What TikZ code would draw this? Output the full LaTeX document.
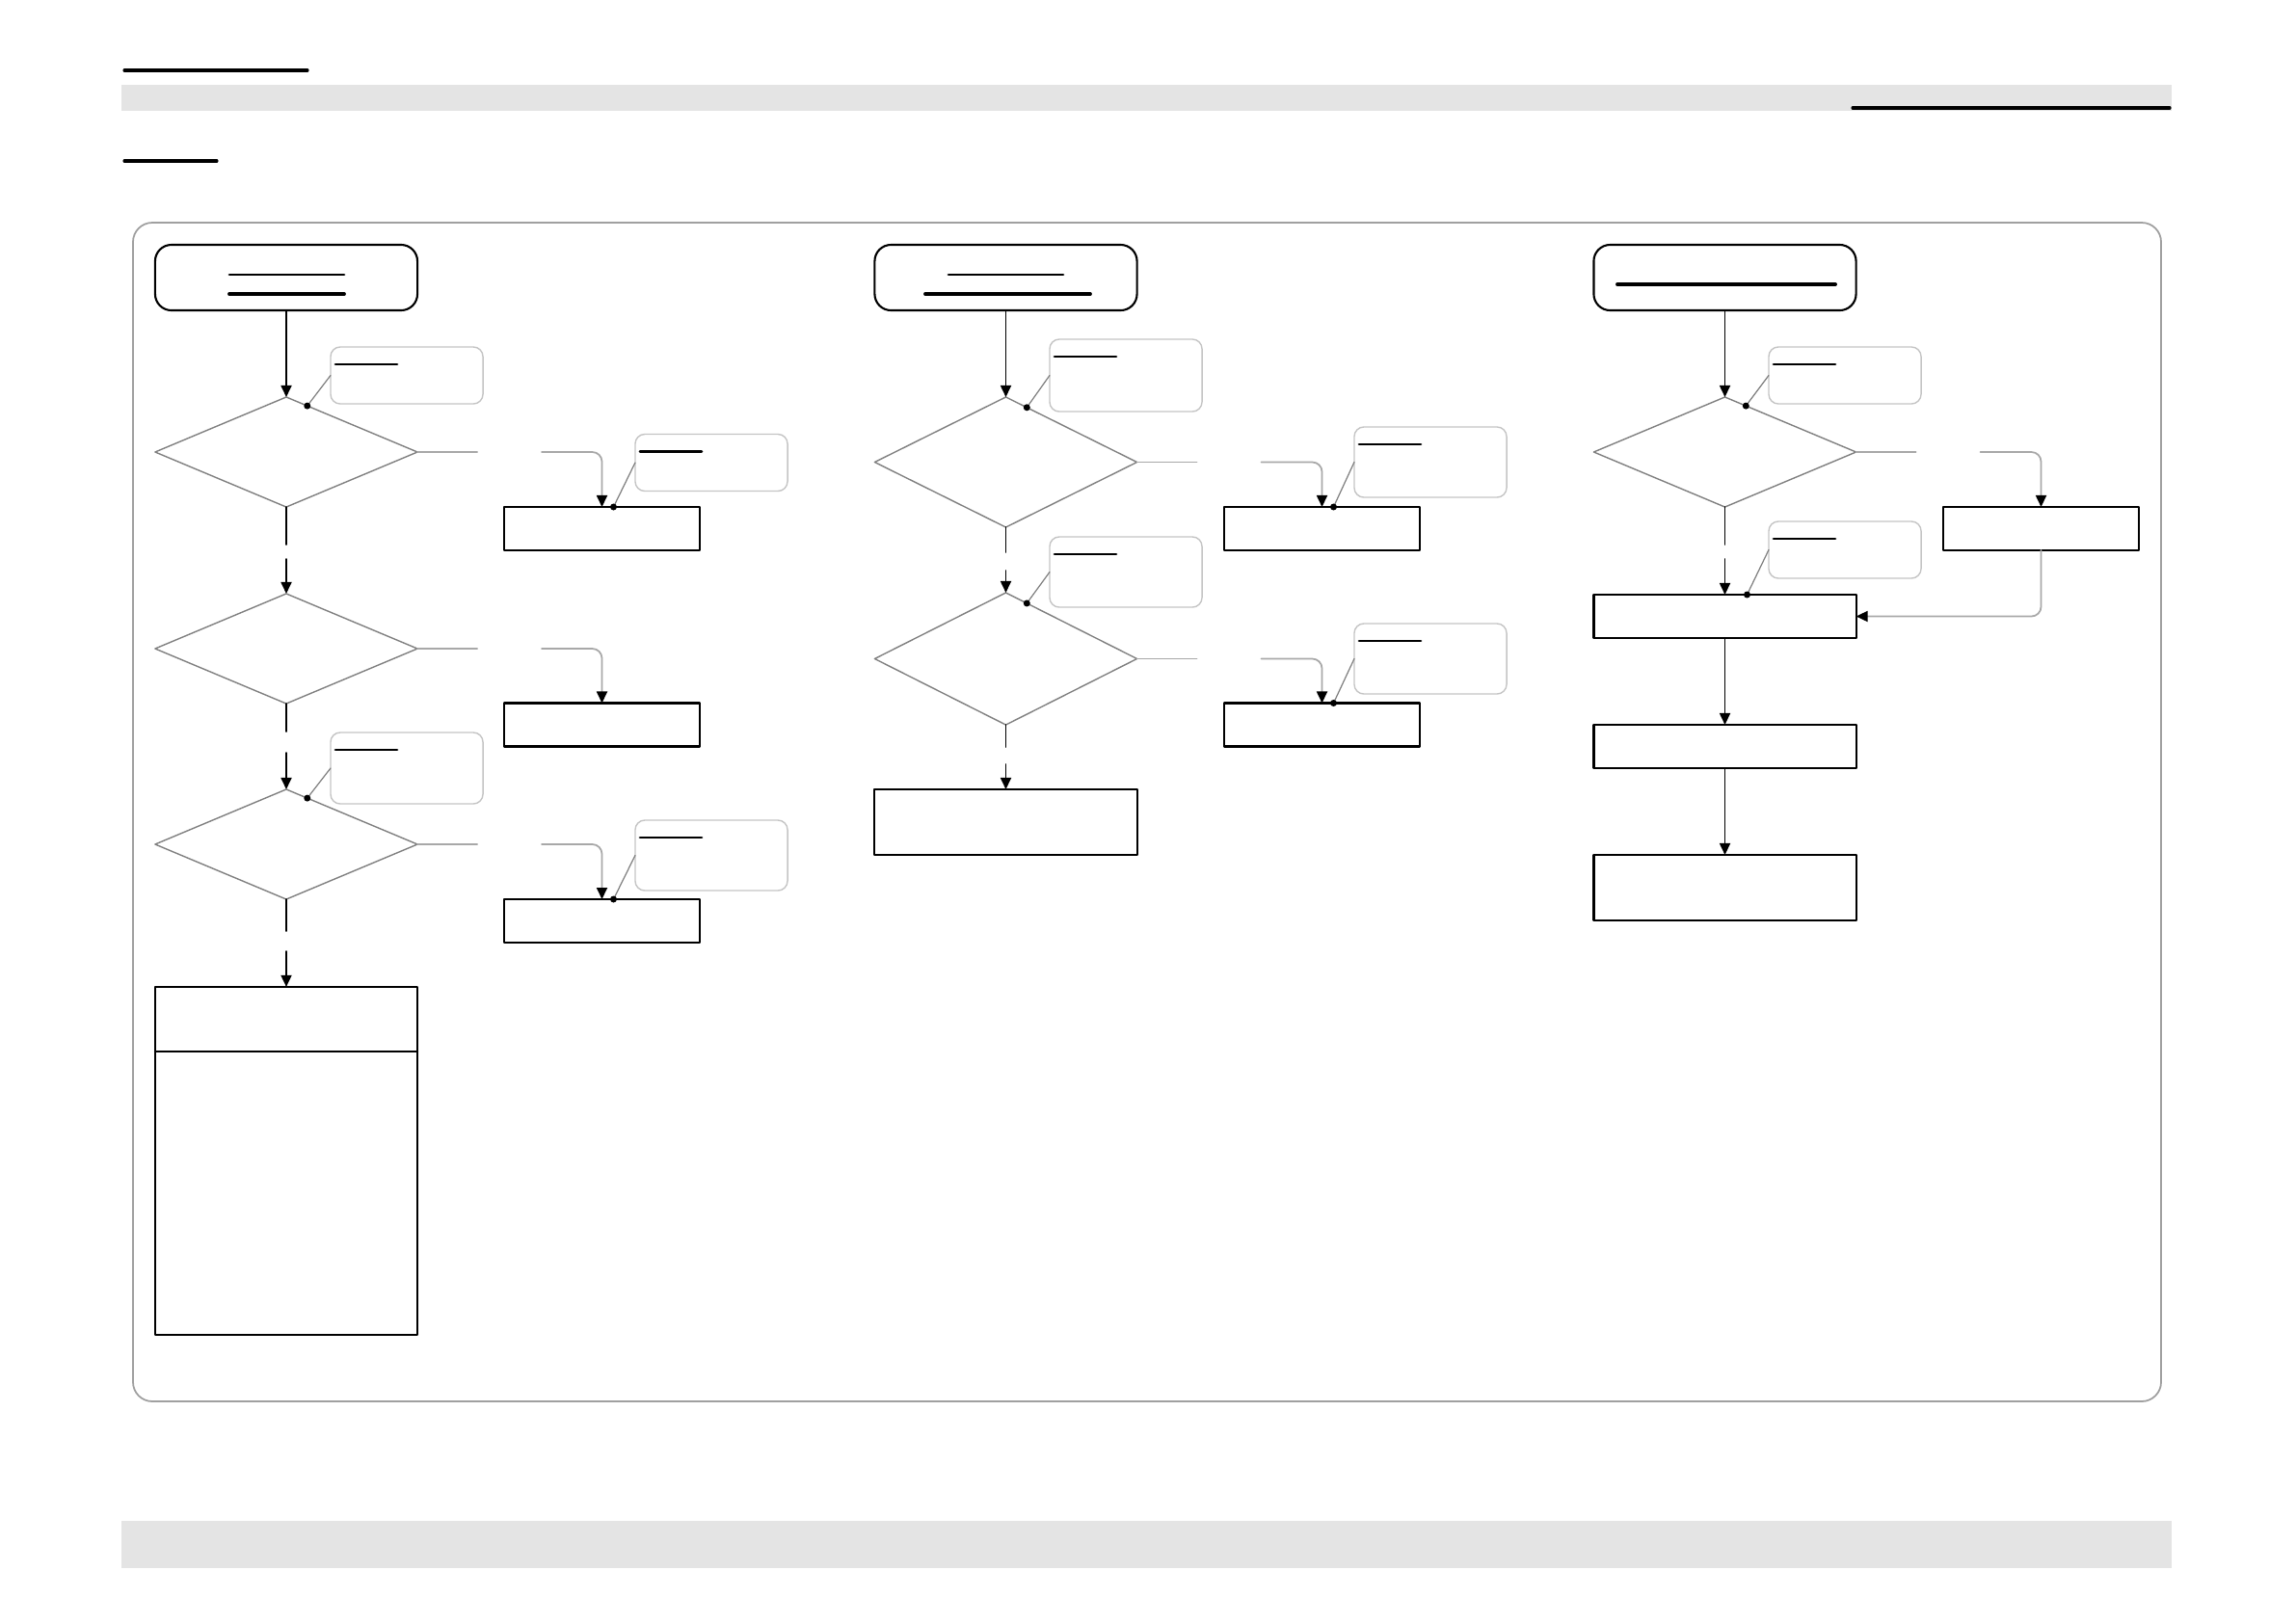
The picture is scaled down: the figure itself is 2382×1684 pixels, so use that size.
\documentclass[tikz,border=0pt]{standalone}
\usetikzlibrary{shapes.geometric,arrows.meta,calc}

\definecolor{bandgray}{HTML}{E4E4E4}
\definecolor{framegray}{HTML}{A0A0A0}
\definecolor{notegray}{HTML}{C4C4C4}
\definecolor{yesgray}{HTML}{A8A8A8}
\definecolor{edgegray}{HTML}{808080}

\begin{document}
\begin{tikzpicture}[x=0.01cm,y=-0.01cm,line cap=round,line join=round,
  >={Triangle[length=0.12cm,width=0.11cm,color=black]},
  term/.style={draw,rounded corners=0.17cm,line width=0.6pt,minimum width=2.72cm,minimum height=0.68cm,inner sep=0pt,outer sep=0pt},
  decide/.style={draw=edgegray,diamond,line width=0.4pt,minimum width=2.72cm,minimum height=1.14cm,inner sep=0pt,outer sep=0pt},
  proc/.style={draw,line width=0.6pt,minimum width=2.03cm,minimum height=0.45cm,inner sep=0pt,outer sep=0pt},
  note/.style={draw=notegray,rounded corners=0.1cm,line width=0.4pt,minimum width=1.58cm,minimum height=0.59cm,inner sep=0pt,outer sep=0pt},
  flow/.style={line width=0.5pt},
  yesline/.style={draw=yesgray,line width=0.5pt,rounded corners=0.1cm},
  uline/.style={line width=0.8pt},
  pin/.style={draw=edgegray,line width=0.35pt}]
  \useasboundingbox (0,0) rectangle (2382,1684);
  % 页眉、页脚
  \fill[bandgray] (126,88) rectangle (2253,115);
  \fill[bandgray] (126,1578) rectangle (2253,1627);
  \draw[line width=0.9pt] (129,73) -- (319,73);
  \draw[line width=0.9pt] (1922,112) -- (2251,112);
  \draw[line width=0.9pt] (129,167) -- (225,167);
  \draw[framegray,line width=0.5pt,rounded corners=0.2cm] (138,231) rectangle (2242,1454);

  % 第一列
  \node[term] (t1) at (297,288) {};
  \draw[uline] (238,285) -- (357,285);
  \draw[uline,line width=1.1pt] (238,305) -- (357,305);
  \node[decide] (d11) at (297,469) {};
  \node[decide] (d12) at (297,673) {};
  \node[decide] (d13) at (297,876) {};
  \node[proc] (b11) at (624.5,548.5) {};
  \node[proc] (b12) at (624.5,752) {};
  \node[proc] (b13) at (624.5,955.5) {};
  \node[proc,minimum width=2.72cm,minimum height=3.61cm] (big) at (297,1204.5) {};
  \draw[line width=0.6pt] ($(big.north west)+(0,67)$) -- ($(big.north east)+(0,67)$);
  \node[note] (n11) at (422,389.5) {};
  \node[note] (n12) at (738,480) {};
  \node[note,minimum height=0.74cm] (n13) at (422,797) {};
  \node[note,minimum height=0.73cm] (n14) at (738,887.5) {};
  \draw[flow,->] (t1) -- (d11);
  \draw[flow] (d11.south) -- ++(0,39);
  \draw[flow,->] ($(d11.south)+(0,54)$) -- (d12.north);
  \draw[flow] (d12.south) -- ++(0,29);
  \draw[flow,->] ($(d12.south)+(0,51)$) -- (d13.north);
  \draw[flow] (d13.south) -- ++(0,33);
  \draw[flow,->] ($(d13.south)+(0,54)$) -- (big.north);
  \foreach \d/\b in {d11/b11,d12/b12,d13/b13} {
    \draw[yesline] (\d.east) -- ++(62,0);
    \draw[yesline,->] ($(\d.east)+(129,0)$) -| (\b.north);
  }

  % 第二列
  \node[term] (t2) at (1043.5,288) {};
  \draw[uline] (984,285) -- (1103,285);
  \draw[uline,line width=1.1pt] (960,305) -- (1131,305);
  \node[decide,minimum height=1.35cm] (d21) at (1043.5,479.5) {};
  \node[decide,minimum height=1.37cm] (d22) at (1043.5,683.5) {};
  \node[proc] (b21) at (1371.5,548.5) {};
  \node[proc] (b22) at (1371.5,752) {};
  \node[proc,minimum width=2.72cm,minimum height=0.68cm] (b23) at (1043.5,853) {};
  \node[note,minimum height=0.75cm] (n21) at (1168,389.5) {};
  \node[note,minimum height=0.73cm] (n22) at (1484,479.5) {};
  \node[note,minimum height=0.73cm] (n23) at (1168,593.5) {};
  \node[note,minimum height=0.73cm] (n24) at (1484,683.5) {};
  \draw[flow,->] (t2) -- (d21);
  \draw[flow] (d21.south) -- ++(0,26);
  \draw[flow,->] ($(d21.south)+(0,45)$) -- (d22.north);
  \draw[flow] (d22.south) -- ++(0,23);
  \draw[flow,->] ($(d22.south)+(0,41)$) -- (b23.north);
  \foreach \d/\b in {d21/b21,d22/b22} {
    \draw[yesline] (\d.east) -- ++(62,0);
    \draw[yesline,->] ($(\d.east)+(129,0)$) -| (\b.north);
  }

  % 第三列
  \node[term] (t3) at (1789.5,288) {};
  \draw[uline,line width=1.1pt] (1678,295) -- (1904,295);
  \node[decide] (d31) at (1789.5,469) {};
  \node[proc] (b31) at (2117.5,548.5) {};
  \node[proc,minimum width=2.72cm] (b32) at (1789.5,639.5) {};
  \node[proc,minimum width=2.72cm] (b33) at (1789.5,774.5) {};
  \node[proc,minimum width=2.72cm,minimum height=0.68cm] (b34) at (1789.5,921) {};
  \node[note] (n31) at (1914,389.5) {};
  \node[note] (n32) at (1914,570.5) {};
  \draw[flow,->] (t3) -- (d31);
  \draw[flow] (d31.south) -- ++(0,39);
  \draw[flow,->] ($(d31.south)+(0,54)$) -- (b32.north);
  \draw[yesline] (d31.east) -- ++(62,0);
  \draw[yesline,->] ($(d31.east)+(129,0)$) -| (b31.north);
  \draw[yesline,->] (b31.south) |- (b32.east);
  \draw[flow,->] (b32) -- (b33);
  \draw[flow,->] (b33) -- (b34);

  % 注释框
  \foreach \d in {d11,d13,d21,d22,d31}
    \coordinate (\d-pin) at ($(\d.north)!0.16!(\d.east)$);
  \foreach \b in {b11,b13,b21,b22}
    \coordinate (\b-pin) at ($(\b.north)+(12,0)$);
  \coordinate (b32-pin) at ($(b32.north)+(23,0)$);
  \foreach \n in {n11,n12,n13,n14,n21,n22,n23,n24,n31,n32} {
    \draw[uline] ($(\n.north west)+(5,18)$) -- ++(64,0);
  }
  \foreach \n/\p in {n11/d11,n13/d13,n21/d21,n23/d22,n31/d31,
                     n12/b11,n14/b13,n22/b21,n24/b22,n32/b32} {
    \draw[pin] (\n.west) -- (\p-pin);
    \fill (\p-pin) circle[radius=0.035cm];
  }
\end{tikzpicture}
\end{document}
